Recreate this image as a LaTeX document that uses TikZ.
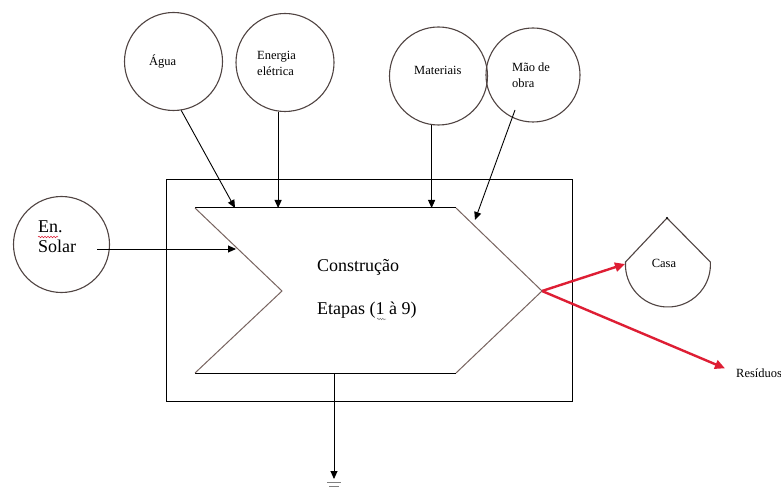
\documentclass[tikz,border=0pt]{standalone}
\usepackage{fontspec}
\setmainfont{Liberation Serif}
\usetikzlibrary{arrows.meta,decorations.pathmorphing}
\definecolor{circline}{RGB}{80,68,66}
\definecolor{slant}{RGB}{120,100,96}
\definecolor{redline}{RGB}{222,30,52}
\tikzset{
  circ/.style={circle, draw=circline, line width=1.1pt, minimum size=98pt, inner sep=0pt},
  small/.style={font=\fontsize{12.5}{16}\selectfont, align=left, inner sep=0pt},
  big/.style={font=\fontsize{18}{20}\selectfont, align=left, inner sep=0pt},
  arr/.style={draw=black, line width=0.9pt, -{Triangle[length=8pt,width=7pt]}},
  redarr/.style={draw=redline, line width=2.4pt, -{Triangle[length=10pt,width=9pt]}},
  box/.style={draw=black, line width=1pt},
  squig/.style={draw=redline, line width=0.5pt, decorate, decoration={snake, amplitude=0.8pt, segment length=3pt}}
}
\begin{document}
\begin{tikzpicture}[x=1pt,y=-1pt]
\useasboundingbox (0,0) rectangle (781,494);
\fill[white] (0,0) rectangle (781,494);

% outer box
\draw[box] (166,180) rectangle (572,401);

% chevron
\coordinate (ctl) at (195,208);
\coordinate (ctr) at (456,208);
\coordinate (tip) at (542,291);
\coordinate (cbr) at (456,373);
\coordinate (cbl) at (195,373);
\coordinate (notch) at (282,291);
\draw[black, line width=1pt] (ctl) -- (ctr) (cbl) -- (cbr);
\draw[slant, line width=1pt] (ctr) -- (tip) -- (cbr) (ctl) -- (notch) -- (cbl);

\node[big, anchor=west] (constr) at (317,267) {Construção};
\node[big, anchor=west] (etapas) at (317,310) {Etapas (1 à 9)};
\draw[draw=gray, line width=0.5pt, decorate, decoration={snake, amplitude=0.7pt, segment length=2.5pt}] (377,319) -- (386,319);

% input circles
\node[circ] (agua) at (173.5,61.5) {};
\node[small, anchor=west] (aguat) at (149,61) {Água};
\node[circ] (energia) at (285,62.5) {};
\node[small, anchor=west] (energiat) at (257,63) {Energia\\elétrica};
\node[circ] (mat) at (438.5,76) {};
\node[small, anchor=west] (matt) at (414,70) {Materiais};
\node[circ, minimum size=94pt] (mao) at (533,75) {};
\node[small, anchor=west] (maot) at (512,75.5) {Mão de\\obra};
\node[circ, minimum size=96pt] (solar) at (61.5,244.5) {};
\node[big, anchor=base west] (solaren) at (38,233) {En.};
\node[big, anchor=base west] (solart) at (38,253) {Solar};
\draw[squig] (38,237) -- (58,237);

% input arrows
\coordinate (aguain) at (235,208);
\draw[arr] (agua.-81) -- (aguain);
\draw[arr] (energia.-98) -- (energia.-98 |- ctl);
\draw[arr] (mat.-98) -- (mat.-98 |- ctl);
\coordinate (maostart) at (515,110);
\coordinate (maoin) at (475,220);
\draw[arr] (maostart) -- (maoin);
\coordinate (solarstart) at (97,249);
\coordinate (solarin) at (236,249);
\draw[arr] (solarstart) -- (solarin);

% output to ground
\coordinate (outb) at (334,373);
\coordinate (gnd) at (334,479);
\draw[arr] (outb) -- (gnd);
\draw[line width=1pt, gray] (327,482) -- (341,482);
\draw[line width=1pt, gray] (329,486) -- (339,486);

% Casa shape
\coordinate (apex) at (667,218);
\draw[circline, line width=1.1pt] (apex) -- (625.5,262) arc[start angle=183.4, end angle=-3.4, radius=42.5] -- cycle;
\fill[black] (apex) circle (1.2);
\node[small] (casa) at (664,263) {Casa};
\coordinate (casain) at (625,264);
\draw[redarr] (tip) -- (casain);

% Residuos
\node[small, anchor=west] (resid) at (736,373) {Resíduos};
\draw[redarr, shorten >=12pt] (tip) -- (resid.west);
\end{tikzpicture}
\end{document}
